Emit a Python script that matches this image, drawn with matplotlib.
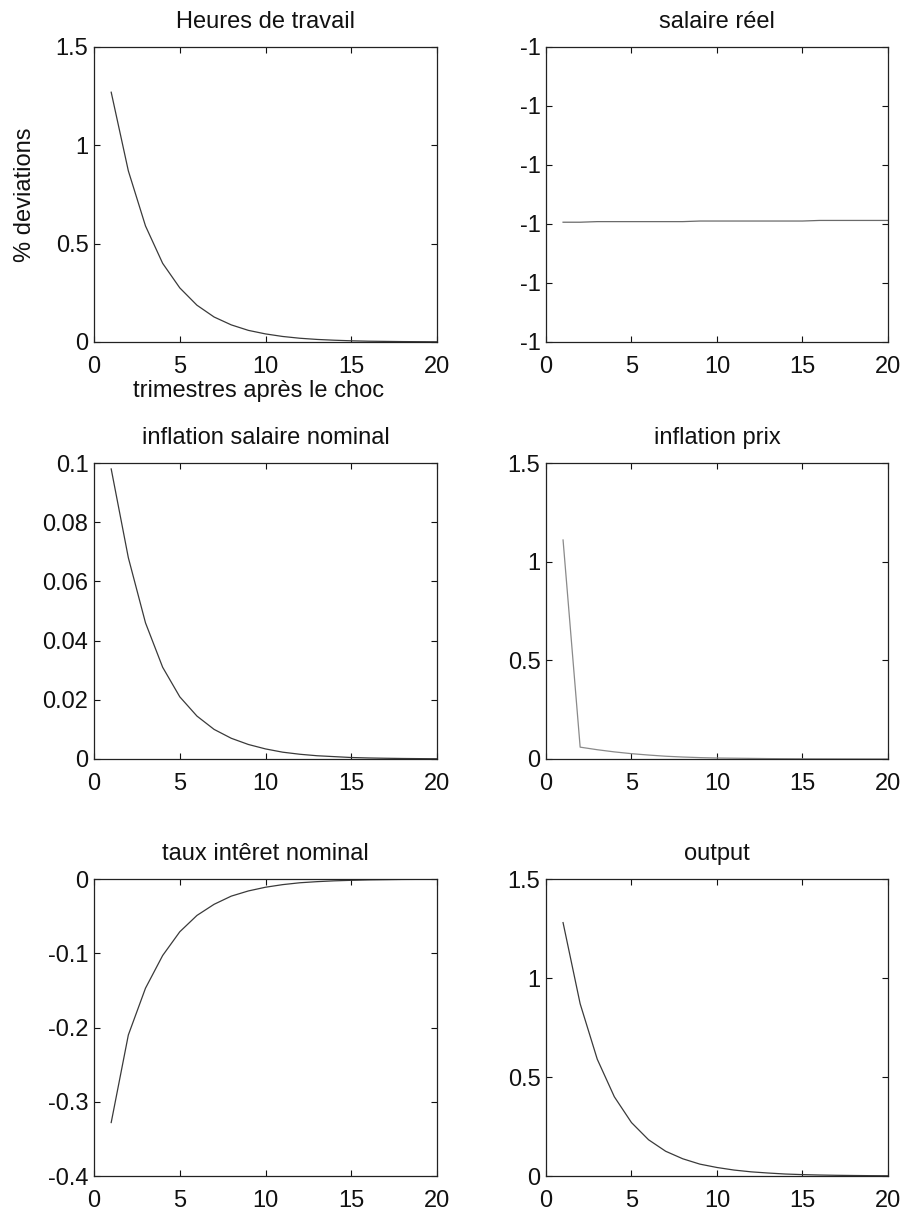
import numpy as np
import matplotlib
matplotlib.use("Agg")
import matplotlib.pyplot as plt
from matplotlib.ticker import FormatStrFormatter

plt.rcParams['font.family'] = ['Liberation Sans', 'DejaVu Sans']

# ── Data (quarters 1..20 after the shock) ──
trimestres = list(range(1, 21))

heures = [1.27, 0.87, 0.59, 0.40, 0.275, 0.187, 0.127, 0.087, 0.059, 0.041,
          0.028, 0.019, 0.013, 0.009, 0.006, 0.004, 0.003, 0.002, 0.0015, 0.001]

salaire_reel = [-1.000000097, -1.000000097, -1.000000096, -1.000000096, -1.000000096,
                -1.000000096, -1.000000096, -1.000000096, -1.000000095, -1.000000095,
                -1.000000095, -1.000000095, -1.000000095, -1.000000095, -1.000000095,
                -1.000000094, -1.000000094, -1.000000094, -1.000000094, -1.000000094]

inflation_salaire = [0.098, 0.068, 0.046, 0.031, 0.021, 0.0145, 0.010, 0.007, 0.0049, 0.0034,
                     0.0023, 0.0016, 0.0011, 0.0008, 0.0005, 0.00035, 0.00025, 0.00017, 0.00012, 0.00008]

inflation_prix = [1.11, 0.06, 0.047, 0.036, 0.027, 0.02, 0.014, 0.010, 0.007, 0.005,
                  0.004, 0.003, 0.002, 0.0015, 0.001, 0.0008, 0.0006, 0.0004, 0.0003, 0.0002]

taux_interet = [-0.328, -0.21, -0.147, -0.103, -0.071, -0.049, -0.034, -0.023, -0.016, -0.011,
                -0.0075, -0.005, -0.0035, -0.0024, -0.0017, -0.0011, -0.0008, -0.0005, -0.0004, -0.0003]

output = [1.28, 0.87, 0.59, 0.40, 0.27, 0.183, 0.125, 0.087, 0.060, 0.043,
          0.030, 0.021, 0.015, 0.010, 0.007, 0.005, 0.0035, 0.0025, 0.0017, 0.0012]

xticks = [0, 5, 10, 15, 20]

# (title, series, y limits, y ticks, line colour)
panels = [
    ("Heures de travail", heures, (0, 1.5), [0, 0.5, 1, 1.5], '#3a3a3a'),
    ("salaire réel", salaire_reel, (-1.0000003, -0.9999998),
     [-1.0000003, -1.0000002, -1.0000001, -1.0, -0.9999999, -0.9999998], '#6a6a6a'),
    ("inflation salaire nominal", inflation_salaire, (0, 0.1),
     [0, 0.02, 0.04, 0.06, 0.08, 0.1], '#3a3a3a'),
    ("inflation prix", inflation_prix, (0, 1.5), [0, 0.5, 1, 1.5], '#8a8a8a'),
    ("taux intêret nominal", taux_interet, (-0.4, 0),
     [-0.4, -0.3, -0.2, -0.1, 0], '#3a3a3a'),
    ("output", output, (0, 1.5), [0, 0.5, 1, 1.5], '#3a3a3a'),
]

lefts = [0.1038, 0.6026]
widths = [0.3786, 0.3775]
bottoms = [0.7183, 0.3748, 0.0313]
heights = [0.2430, 0.2438, 0.2446]

fig = plt.figure(figsize=(9.06, 12.14), dpi=100)

axes = []
for i, (title, series, ylim, yticks, color) in enumerate(panels):
    row, col = divmod(i, 2)
    ax = fig.add_axes([lefts[col], bottoms[row], widths[col], heights[row]])
    ax.plot(trimestres, series, color=color, linewidth=0.9)
    ax.set_xlim(0, 20)
    ax.set_ylim(*ylim)
    ax.set_xticks(xticks)
    ax.set_yticks(yticks)
    ax.yaxis.set_major_formatter(FormatStrFormatter('%g'))
    ax.xaxis.set_major_formatter(FormatStrFormatter('%g'))
    ax.tick_params(direction='in', top=True, right=True, length=4, width=0.8,
                   labelsize=17, colors='#111111')
    ax.tick_params(axis='x', pad=10)
    ax.tick_params(axis='y', pad=4)
    for sp in ax.spines.values():
        sp.set_linewidth(0.9)
        sp.set_color('#222222')
    ax.set_title(title, fontsize=17, pad=14, color='#111111')
    axes.append(ax)

axes[0].set_ylabel("% deviations", fontsize=17, color='#111111')
axes[0].yaxis.set_label_coords(-0.169, 0.5)
axes[0].set_xlabel("trimestres après le choc", fontsize=17, color='#111111')
axes[0].xaxis.set_label_coords(0.48, -0.13)

fig.savefig("out.png", dpi=100)
